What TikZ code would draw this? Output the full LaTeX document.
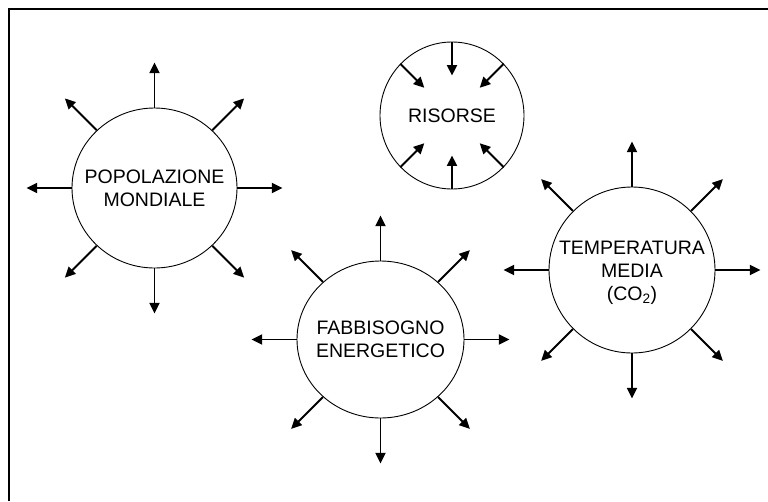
\documentclass[tikz,border=0pt]{standalone}
\usepackage{fontspec}
\setmainfont{Liberation Sans}
\usetikzlibrary{shapes.geometric,arrows.meta}

\tikzset{
  bubble/.style={draw, ellipse, line width=0.9pt, inner sep=0pt},
  caption/.style={align=center, inner sep=0pt, font=\fontsize{19.5}{23}\selectfont},
  arr/.style={line width=1.8pt, -{Triangle[length=10.5pt,width=10pt]}},
  frame/.style={line width=1.2pt}
}

\begin{document}
\begin{tikzpicture}[x=1pt,y=1pt]
  \useasboundingbox (0,0) rectangle (768,-501);

  % open frame: top and left edges only
  \coordinate (fbl) at (9,-501);
  \coordinate (ftl) at (9,-9);
  \coordinate (ftr) at (768,-9);
  \draw[frame] (fbl) -- (ftl) -- (ftr);

  % bubbles
  \node[bubble, minimum width=165pt, minimum height=160pt] (pop) at (154.5,-188) {};
  \node[bubble, minimum width=144pt, minimum height=147pt] (ris) at (452,-115.5) {};
  \node[bubble, minimum width=167pt, minimum height=157pt] (fab) at (380.5,-339.5) {};
  \node[bubble, minimum width=166pt, minimum height=166pt] (tem) at (632,-270) {};

  % captions
  \node[caption] (popT) at (pop.center) {POPOLAZIONE\\MONDIALE};
  \node[caption] (risT) at (ris.center) {RISORSE};
  \node[caption] (fabT) at (fab.center) {FABBISOGNO\\ENERGETICO};
  \node[caption] (temT) at ([yshift=-3pt]tem.center) {TEMPERATURA\\MEDIA\\(CO\textsubscript{2})};

  % outward arrows
  \foreach \c in {pop,fab,tem}{
    \foreach \a in {0,45,...,315}{
      \draw[arr] (\c.\a) -- ++(\a:45pt);
    }
  }

  % inward arrows
  \foreach \a in {45,90,135,225,270,315}{
    \draw[arr] (ris.\a) -- ++(\a+180:34pt);
  }
\end{tikzpicture}
\end{document}
